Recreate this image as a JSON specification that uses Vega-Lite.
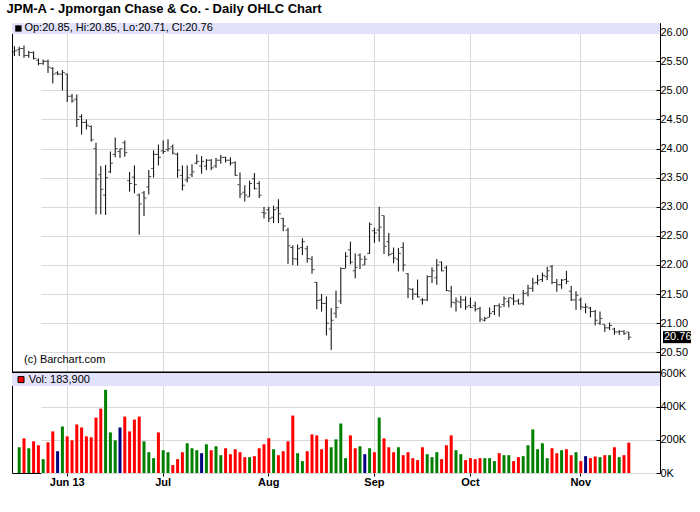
{
"$schema": "https://vega.github.io/schema/vega-lite/v6.json",
"background": "white",
"padding": {"left": 6, "top": 2, "right": 5, "bottom": 5},
"title": {"text": "JPM-A - Jpmorgan Chase & Co. - Daily OHLC Chart", "anchor": "start", "font": "Liberation Sans", "fontSize": 13, "fontWeight": "bold", "color": "black", "offset": 6, "dx": -4},
"datasets": {"ohlc": [
{"date":"2013-05-16","open":25.66,"high":25.76,"low":25.59,"close":25.68,"volume":null,"change":"up"},
{"date":"2013-05-17","open":25.70,"high":25.75,"low":25.59,"close":25.72,"volume":156000,"change":"up"},
{"date":"2013-05-20","open":25.72,"high":25.77,"low":25.56,"close":25.60,"volume":210000,"change":"down"},
{"date":"2013-05-21","open":25.60,"high":25.68,"low":25.56,"close":25.65,"volume":150000,"change":"up"},
{"date":"2013-05-22","open":25.65,"high":25.67,"low":25.53,"close":25.55,"volume":192000,"change":"down"},
{"date":"2013-05-23","open":25.52,"high":25.55,"low":25.43,"close":25.46,"volume":168000,"change":"down"},
{"date":"2013-05-24","open":25.46,"high":25.53,"low":25.44,"close":25.50,"volume":84000,"change":"up"},
{"date":"2013-05-28","open":25.50,"high":25.53,"low":25.30,"close":25.40,"volume":186000,"change":"down"},
{"date":"2013-05-29","open":25.38,"high":25.40,"low":25.12,"close":25.28,"volume":252000,"change":"down"},
{"date":"2013-05-30","open":25.30,"high":25.33,"low":25.26,"close":25.28,"volume":132000,"change":"unch"},
{"date":"2013-05-31","open":25.28,"high":25.35,"low":25.00,"close":25.31,"volume":282000,"change":"up"},
{"date":"2013-06-03","open":25.28,"high":25.29,"low":24.80,"close":24.90,"volume":222000,"change":"down"},
{"date":"2013-06-04","open":24.90,"high":24.94,"low":24.79,"close":24.82,"volume":198000,"change":"down"},
{"date":"2013-06-05","open":24.85,"high":24.93,"low":24.37,"close":24.50,"volume":294000,"change":"down"},
{"date":"2013-06-06","open":24.55,"high":24.59,"low":24.24,"close":24.45,"volume":276000,"change":"down"},
{"date":"2013-06-07","open":24.45,"high":24.50,"low":24.33,"close":24.40,"volume":222000,"change":"down"},
{"date":"2013-06-10","open":24.38,"high":24.40,"low":24.12,"close":24.15,"volume":216000,"change":"down"},
{"date":"2013-06-11","open":24.00,"high":24.10,"low":22.87,"close":23.48,"volume":336000,"change":"down"},
{"date":"2013-06-12","open":23.55,"high":23.70,"low":22.87,"close":23.30,"volume":390000,"change":"down"},
{"date":"2013-06-13","open":23.20,"high":23.72,"low":22.86,"close":23.50,"volume":504000,"change":"up"},
{"date":"2013-06-14","open":23.60,"high":23.95,"low":23.58,"close":23.75,"volume":246000,"change":"up"},
{"date":"2013-06-17","open":23.90,"high":24.19,"low":23.85,"close":24.00,"volume":198000,"change":"up"},
{"date":"2013-06-18","open":23.95,"high":24.00,"low":23.84,"close":24.00,"volume":276000,"change":"unch"},
{"date":"2013-06-19","open":24.10,"high":24.14,"low":23.86,"close":23.93,"volume":342000,"change":"down"},
{"date":"2013-06-20","open":23.45,"high":23.60,"low":23.26,"close":23.40,"volume":252000,"change":"down"},
{"date":"2013-06-21","open":23.51,"high":23.71,"low":23.23,"close":23.38,"volume":324000,"change":"down"},
{"date":"2013-06-24","open":23.20,"high":23.23,"low":22.52,"close":23.05,"volume":342000,"change":"down"},
{"date":"2013-06-25","open":23.24,"high":23.27,"low":22.84,"close":23.15,"volume":192000,"change":"up"},
{"date":"2013-06-26","open":23.34,"high":23.63,"low":23.21,"close":23.52,"volume":126000,"change":"up"},
{"date":"2013-06-27","open":23.66,"high":23.97,"low":23.50,"close":23.90,"volume":90000,"change":"up"},
{"date":"2013-06-28","open":23.90,"high":24.07,"low":23.71,"close":23.85,"volume":246000,"change":"down"},
{"date":"2013-07-01","open":23.96,"high":24.14,"low":23.91,"close":23.95,"volume":138000,"change":"up"},
{"date":"2013-07-02","open":23.98,"high":24.16,"low":23.95,"close":24.00,"volume":126000,"change":"up"},
{"date":"2013-07-03","open":24.03,"high":24.07,"low":23.90,"close":23.92,"volume":48000,"change":"down"},
{"date":"2013-07-05","open":23.90,"high":23.93,"low":23.50,"close":23.63,"volume":84000,"change":"down"},
{"date":"2013-07-08","open":23.54,"high":23.71,"low":23.28,"close":23.37,"volume":126000,"change":"down"},
{"date":"2013-07-09","open":23.46,"high":23.71,"low":23.42,"close":23.50,"volume":180000,"change":"up"},
{"date":"2013-07-10","open":23.55,"high":23.73,"low":23.51,"close":23.60,"volume":150000,"change":"up"},
{"date":"2013-07-11","open":23.75,"high":23.90,"low":23.73,"close":23.78,"volume":138000,"change":"up"},
{"date":"2013-07-12","open":23.70,"high":23.87,"low":23.57,"close":23.78,"volume":120000,"change":"unch"},
{"date":"2013-07-15","open":23.70,"high":23.82,"low":23.63,"close":23.80,"volume":174000,"change":"up"},
{"date":"2013-07-16","open":23.80,"high":23.82,"low":23.63,"close":23.67,"volume":138000,"change":"down"},
{"date":"2013-07-17","open":23.70,"high":23.84,"low":23.67,"close":23.80,"volume":162000,"change":"up"},
{"date":"2013-07-18","open":23.80,"high":23.89,"low":23.74,"close":23.85,"volume":108000,"change":"up"},
{"date":"2013-07-19","open":23.85,"high":23.86,"low":23.76,"close":23.80,"volume":150000,"change":"down"},
{"date":"2013-07-22","open":23.80,"high":23.85,"low":23.71,"close":23.75,"volume":114000,"change":"down"},
{"date":"2013-07-23","open":23.76,"high":23.78,"low":23.53,"close":23.54,"volume":144000,"change":"down"},
{"date":"2013-07-24","open":23.38,"high":23.59,"low":23.15,"close":23.22,"volume":126000,"change":"down"},
{"date":"2013-07-25","open":23.25,"high":23.37,"low":23.09,"close":23.20,"volume":96000,"change":"down"},
{"date":"2013-07-26","open":23.17,"high":23.45,"low":23.17,"close":23.40,"volume":96000,"change":"up"},
{"date":"2013-07-29","open":23.48,"high":23.58,"low":23.30,"close":23.31,"volume":102000,"change":"down"},
{"date":"2013-07-30","open":23.40,"high":23.44,"low":23.15,"close":23.20,"volume":150000,"change":"down"},
{"date":"2013-07-31","open":22.90,"high":23.00,"low":22.80,"close":22.89,"volume":174000,"change":"down"},
{"date":"2013-08-01","open":22.95,"high":23.00,"low":22.74,"close":22.80,"volume":210000,"change":"down"},
{"date":"2013-08-02","open":22.82,"high":23.02,"low":22.72,"close":22.95,"volume":144000,"change":"up"},
{"date":"2013-08-05","open":22.98,"high":23.13,"low":22.72,"close":22.88,"volume":108000,"change":"down"},
{"date":"2013-08-06","open":22.80,"high":22.81,"low":22.58,"close":22.67,"volume":132000,"change":"down"},
{"date":"2013-08-07","open":22.60,"high":22.64,"low":22.02,"close":22.33,"volume":192000,"change":"down"},
{"date":"2013-08-08","open":22.30,"high":22.34,"low":22.00,"close":22.11,"volume":348000,"change":"down"},
{"date":"2013-08-09","open":22.10,"high":22.35,"low":21.99,"close":22.28,"volume":120000,"change":"up"},
{"date":"2013-08-12","open":22.30,"high":22.46,"low":22.17,"close":22.40,"volume":72000,"change":"up"},
{"date":"2013-08-13","open":22.28,"high":22.33,"low":22.04,"close":22.11,"volume":132000,"change":"down"},
{"date":"2013-08-14","open":22.10,"high":22.15,"low":21.85,"close":21.92,"volume":234000,"change":"down"},
{"date":"2013-08-15","open":21.70,"high":21.71,"low":21.24,"close":21.39,"volume":228000,"change":"down"},
{"date":"2013-08-16","open":21.40,"high":21.50,"low":21.20,"close":21.34,"volume":144000,"change":"down"},
{"date":"2013-08-19","open":21.34,"high":21.46,"low":20.79,"close":21.00,"volume":204000,"change":"down"},
{"date":"2013-08-20","open":20.90,"high":21.26,"low":20.54,"close":21.05,"volume":156000,"change":"up"},
{"date":"2013-08-21","open":21.17,"high":21.56,"low":21.09,"close":21.27,"volume":204000,"change":"up"},
{"date":"2013-08-22","open":21.38,"high":21.96,"low":21.33,"close":21.94,"volume":300000,"change":"up"},
{"date":"2013-08-23","open":21.94,"high":22.22,"low":21.94,"close":22.15,"volume":90000,"change":"up"},
{"date":"2013-08-26","open":22.26,"high":22.40,"low":22.01,"close":22.05,"volume":228000,"change":"down"},
{"date":"2013-08-27","open":21.90,"high":22.20,"low":21.77,"close":21.96,"volume":150000,"change":"down"},
{"date":"2013-08-28","open":22.17,"high":22.20,"low":21.93,"close":22.10,"volume":162000,"change":"up"},
{"date":"2013-08-29","open":22.00,"high":22.16,"low":22.00,"close":22.10,"volume":114000,"change":"unch"},
{"date":"2013-08-30","open":22.20,"high":22.73,"low":22.19,"close":22.70,"volume":150000,"change":"up"},
{"date":"2013-09-03","open":22.59,"high":22.64,"low":22.38,"close":22.55,"volume":126000,"change":"down"},
{"date":"2013-09-04","open":22.60,"high":23.00,"low":22.40,"close":22.65,"volume":336000,"change":"up"},
{"date":"2013-09-05","open":22.85,"high":22.85,"low":22.19,"close":22.32,"volume":210000,"change":"down"},
{"date":"2013-09-06","open":22.40,"high":22.55,"low":22.15,"close":22.18,"volume":156000,"change":"down"},
{"date":"2013-09-09","open":22.20,"high":22.30,"low":22.03,"close":22.12,"volume":126000,"change":"down"},
{"date":"2013-09-10","open":22.10,"high":22.29,"low":21.89,"close":22.20,"volume":156000,"change":"up"},
{"date":"2013-09-11","open":22.30,"high":22.39,"low":21.89,"close":22.00,"volume":108000,"change":"down"},
{"date":"2013-09-12","open":21.85,"high":21.86,"low":21.43,"close":21.59,"volume":126000,"change":"down"},
{"date":"2013-09-13","open":21.58,"high":21.60,"low":21.40,"close":21.50,"volume":90000,"change":"down"},
{"date":"2013-09-16","open":21.50,"high":21.75,"low":21.44,"close":21.45,"volume":78000,"change":"down"},
{"date":"2013-09-17","open":21.40,"high":21.43,"low":21.32,"close":21.40,"volume":156000,"change":"down"},
{"date":"2013-09-18","open":21.40,"high":21.82,"low":21.38,"close":21.80,"volume":114000,"change":"up"},
{"date":"2013-09-19","open":21.80,"high":21.96,"low":21.69,"close":21.90,"volume":96000,"change":"up"},
{"date":"2013-09-20","open":21.78,"high":22.10,"low":21.66,"close":22.00,"volume":126000,"change":"up"},
{"date":"2013-09-23","open":22.05,"high":22.06,"low":21.89,"close":21.90,"volume":84000,"change":"down"},
{"date":"2013-09-24","open":21.95,"high":21.99,"low":21.55,"close":21.56,"volume":168000,"change":"down"},
{"date":"2013-09-25","open":21.55,"high":21.64,"low":21.27,"close":21.36,"volume":228000,"change":"down"},
{"date":"2013-09-26","open":21.35,"high":21.44,"low":21.20,"close":21.38,"volume":138000,"change":"up"},
{"date":"2013-09-27","open":21.36,"high":21.47,"low":21.26,"close":21.40,"volume":114000,"change":"up"},
{"date":"2013-09-30","open":21.40,"high":21.46,"low":21.23,"close":21.28,"volume":78000,"change":"down"},
{"date":"2013-10-01","open":21.30,"high":21.44,"low":21.26,"close":21.27,"volume":90000,"change":"down"},
{"date":"2013-10-02","open":21.30,"high":21.37,"low":21.20,"close":21.24,"volume":84000,"change":"down"},
{"date":"2013-10-03","open":21.25,"high":21.28,"low":21.02,"close":21.07,"volume":90000,"change":"down"},
{"date":"2013-10-04","open":21.05,"high":21.11,"low":21.03,"close":21.08,"volume":90000,"change":"up"},
{"date":"2013-10-07","open":21.10,"high":21.27,"low":21.10,"close":21.17,"volume":90000,"change":"up"},
{"date":"2013-10-08","open":21.20,"high":21.31,"low":21.14,"close":21.30,"volume":72000,"change":"up"},
{"date":"2013-10-09","open":21.30,"high":21.34,"low":21.11,"close":21.28,"volume":120000,"change":"down"},
{"date":"2013-10-10","open":21.32,"high":21.46,"low":21.28,"close":21.42,"volume":108000,"change":"up"},
{"date":"2013-10-11","open":21.37,"high":21.44,"low":21.27,"close":21.44,"volume":108000,"change":"up"},
{"date":"2013-10-14","open":21.42,"high":21.50,"low":21.31,"close":21.38,"volume":72000,"change":"down"},
{"date":"2013-10-15","open":21.38,"high":21.42,"low":21.32,"close":21.33,"volume":96000,"change":"down"},
{"date":"2013-10-16","open":21.34,"high":21.57,"low":21.31,"close":21.51,"volume":102000,"change":"up"},
{"date":"2013-10-17","open":21.52,"high":21.66,"low":21.46,"close":21.60,"volume":168000,"change":"up"},
{"date":"2013-10-18","open":21.60,"high":21.78,"low":21.54,"close":21.69,"volume":264000,"change":"up"},
{"date":"2013-10-21","open":21.70,"high":21.83,"low":21.66,"close":21.74,"volume":144000,"change":"up"},
{"date":"2013-10-22","open":21.75,"high":21.87,"low":21.71,"close":21.82,"volume":180000,"change":"up"},
{"date":"2013-10-23","open":21.80,"high":21.97,"low":21.74,"close":21.90,"volume":90000,"change":"up"},
{"date":"2013-10-24","open":21.97,"high":22.00,"low":21.67,"close":21.70,"volume":150000,"change":"down"},
{"date":"2013-10-25","open":21.70,"high":21.76,"low":21.54,"close":21.66,"volume":120000,"change":"down"},
{"date":"2013-10-28","open":21.66,"high":21.76,"low":21.59,"close":21.74,"volume":138000,"change":"up"},
{"date":"2013-10-29","open":21.75,"high":21.90,"low":21.67,"close":21.72,"volume":144000,"change":"down"},
{"date":"2013-10-30","open":21.55,"high":21.64,"low":21.38,"close":21.40,"volume":108000,"change":"down"},
{"date":"2013-10-31","open":21.40,"high":21.55,"low":21.23,"close":21.48,"volume":126000,"change":"up"},
{"date":"2013-11-01","open":21.40,"high":21.44,"low":21.23,"close":21.28,"volume":72000,"change":"down"},
{"date":"2013-11-04","open":21.27,"high":21.34,"low":21.17,"close":21.28,"volume":102000,"change":"unch"},
{"date":"2013-11-05","open":21.26,"high":21.28,"low":21.10,"close":21.20,"volume":90000,"change":"down"},
{"date":"2013-11-06","open":21.20,"high":21.23,"low":20.96,"close":21.05,"volume":100000,"change":"down"},
{"date":"2013-11-07","open":21.00,"high":21.20,"low":20.97,"close":21.08,"volume":96000,"change":"up"},
{"date":"2013-11-08","open":20.98,"high":20.98,"low":20.85,"close":20.92,"volume":108000,"change":"down"},
{"date":"2013-11-11","open":20.92,"high":21.01,"low":20.88,"close":20.96,"volume":108000,"change":"up"},
{"date":"2013-11-12","open":20.90,"high":20.92,"low":20.80,"close":20.85,"volume":156000,"change":"down"},
{"date":"2013-11-13","open":20.85,"high":20.88,"low":20.80,"close":20.86,"volume":96000,"change":"up"},
{"date":"2013-11-14","open":20.86,"high":20.88,"low":20.80,"close":20.82,"volume":108000,"change":"down"},
{"date":"2013-11-15","open":20.85,"high":20.85,"low":20.71,"close":20.76,"volume":183900,"change":"down"}
]},
"vconcat": [
{
"width": 648, "height": 350,
"data": {"name": "ohlc"},
"layer": [
{"data": {"values": [{}]}, "mark": {"type": "rect", "color": "#e2e2fb"},
 "encoding": {"y": {"datum": 26.158, "type": "quantitative"}, "y2": {"datum": 25.97}}},
{"mark": {"type": "rule", "color": "black", "strokeWidth": 1},
 "encoding": {
  "x": {"field": "date", "type": "ordinal",
   "scale": {"type": "band", "paddingInner": 0, "paddingOuter": 0, "range": [0, 619.2], "round": false},
   "axis": {"values": ["2013-06-03","2013-07-01","2013-08-01","2013-09-03","2013-10-01","2013-11-01"], "labels": false, "ticks": false, "domain": false, "grid": true, "gridColor": "#d9d9d9", "bandPosition": 0.5, "title": null}},
  "y": {"field": "low", "type": "quantitative",
   "scale": {"domain": [20.144, 26.158], "nice": false, "zero": false},
   "axis": {"orient": "right", "values": [20.5,21,21.5,22,22.5,23,23.5,24,24.5,25,25.5,26], "tickCount": 30, "format": ".2f", "grid": true, "gridColor": "#d9d9d9", "tickSize": -4, "labelPadding": 4, "tickColor": "black", "domainColor": "black", "labelFont": "Liberation Sans", "labelFontSize": 11, "labelColor": "black", "title": null}},
  "y2": {"field": "high"}}},
{"mark": {"type": "tick", "color": "black", "size": 2, "thickness": 1, "xOffset": -1.5},
 "encoding": {"x": {"field": "date", "type": "ordinal"}, "y": {"field": "open", "type": "quantitative"}}},
{"mark": {"type": "tick", "color": "black", "size": 2, "thickness": 1, "xOffset": 1.5},
 "encoding": {"x": {"field": "date", "type": "ordinal"}, "y": {"field": "close", "type": "quantitative"}}},
{"data": {"values": [{}]}, "mark": {"type": "rule", "color": "black", "strokeWidth": 2},
 "encoding": {"y": {"datum": 20.152, "type": "quantitative"}}},
{"data": {"values": [{}]}, "mark": {"type": "square", "size": 40, "color": "black", "filled": true, "opacity": 1, "xOffset": 4},
 "encoding": {"x": {"datum": "2013-05-16", "type": "ordinal"}, "y": {"datum": 26.064, "type": "quantitative"}}},
{"data": {"values": [{"t": "Op:20.85, Hi:20.85, Lo:20.71, Cl:20.76"}]}, "mark": {"type": "text", "align": "left", "baseline": "middle", "dx": 10, "font": "Liberation Sans", "fontSize": 11, "color": "black"},
 "encoding": {"x": {"datum": "2013-05-16", "type": "ordinal"}, "y": {"datum": 26.064, "type": "quantitative"}, "text": {"field": "t"}}},
{"data": {"values": [{"t": "(c) Barchart.com"}]}, "mark": {"type": "text", "align": "left", "baseline": "middle", "dx": 9.6, "font": "Liberation Sans", "fontSize": 11, "color": "black"},
 "encoding": {"x": {"datum": "2013-05-16", "type": "ordinal"}, "y": {"datum": 20.373, "type": "quantitative"}, "text": {"field": "t"}}},
{"data": {"values": [{}]}, "mark": {"type": "rect", "color": "black", "xOffset": 3, "x2Offset": 31, "yOffset": -6, "y2Offset": 6},
 "encoding": {"x": {"value": "width"}, "x2": {"value": "width"}, "y": {"datum": 20.76, "type": "quantitative"}, "y2": {"datum": 20.76}}},
{"data": {"values": [{"t": "20.76"}]}, "mark": {"type": "text", "align": "left", "baseline": "middle", "dx": 4, "font": "Liberation Sans", "fontSize": 11, "color": "white"},
 "encoding": {"x": {"value": "width"}, "y": {"datum": 20.76, "type": "quantitative"}, "text": {"field": "t"}}}
]
},
{
"width": 648, "height": 100,
"data": {"name": "ohlc"},
"layer": [
{"data": {"values": [{}]}, "mark": {"type": "rect", "color": "#e2e2fb"},
 "encoding": {"y": {"datum": 606000, "type": "quantitative"}, "y2": {"datum": 527000}}},
{"mark": {"type": "bar", "width": 3},
 "encoding": {
  "x": {"field": "date", "type": "ordinal",
   "scale": {"type": "band", "paddingInner": 0, "paddingOuter": 0, "range": [0, 619.2], "round": false},
   "axis": {"values": ["2013-06-03","2013-07-01","2013-08-01","2013-09-03","2013-10-01","2013-11-01"],
    "labelExpr": "datum.value == '2013-06-03' ? 'Jun 13' : datum.value == '2013-07-01' ? 'Jul' : datum.value == '2013-08-01' ? 'Aug' : datum.value == '2013-09-03' ? 'Sep' : datum.value == '2013-10-01' ? 'Oct' : 'Nov'",
    "labelAngle": 0, "labelFont": "Liberation Sans", "labelFontSize": 11, "labelFontWeight": "bold", "labelColor": "black", "tickSize": 3, "tickColor": "black", "labelPadding": 0, "domain": false, "grid": true, "gridColor": "#d9d9d9", "bandPosition": 0.5, "title": null}},
  "y": {"field": "volume", "type": "quantitative",
   "scale": {"domain": [0, 606000], "nice": false},
   "axis": {"orient": "right", "values": [0, 200000, 400000, 600000], "tickCount": 30, "labelExpr": "format(datum.value / 1000, 'd') + 'K'", "grid": true, "gridColor": "#d9d9d9", "tickSize": -4, "labelPadding": 4, "tickColor": "black", "domainColor": "black", "labelFont": "Liberation Sans", "labelFontSize": 11, "labelColor": "black", "title": null}},
  "color": {"field": "change", "type": "nominal", "scale": {"domain": ["up", "down", "unch"], "range": ["#008000", "#ff0000", "#000080"]}, "legend": null}}},
{"data": {"values": [{}]}, "mark": {"type": "square", "size": 36, "color": "#ff0000", "filled": true, "opacity": 1, "stroke": "black", "strokeWidth": 1, "xOffset": 6.6},
 "encoding": {"x": {"datum": "2013-05-16", "type": "ordinal"}, "y": {"datum": 566000, "type": "quantitative"}}},
{"data": {"values": [{"t": "Vol: 183,900"}]}, "mark": {"type": "text", "align": "left", "baseline": "middle", "dx": 14.3, "font": "Liberation Sans", "fontSize": 11, "color": "black"},
 "encoding": {"x": {"datum": "2013-05-16", "type": "ordinal"}, "y": {"datum": 566000, "type": "quantitative"}, "text": {"field": "t"}}}
]
}
],
"spacing": 0,
"bounds": "flush",
"config": {"view": {"stroke": "black", "strokeWidth": 1}, "font": "Liberation Sans"}
}
